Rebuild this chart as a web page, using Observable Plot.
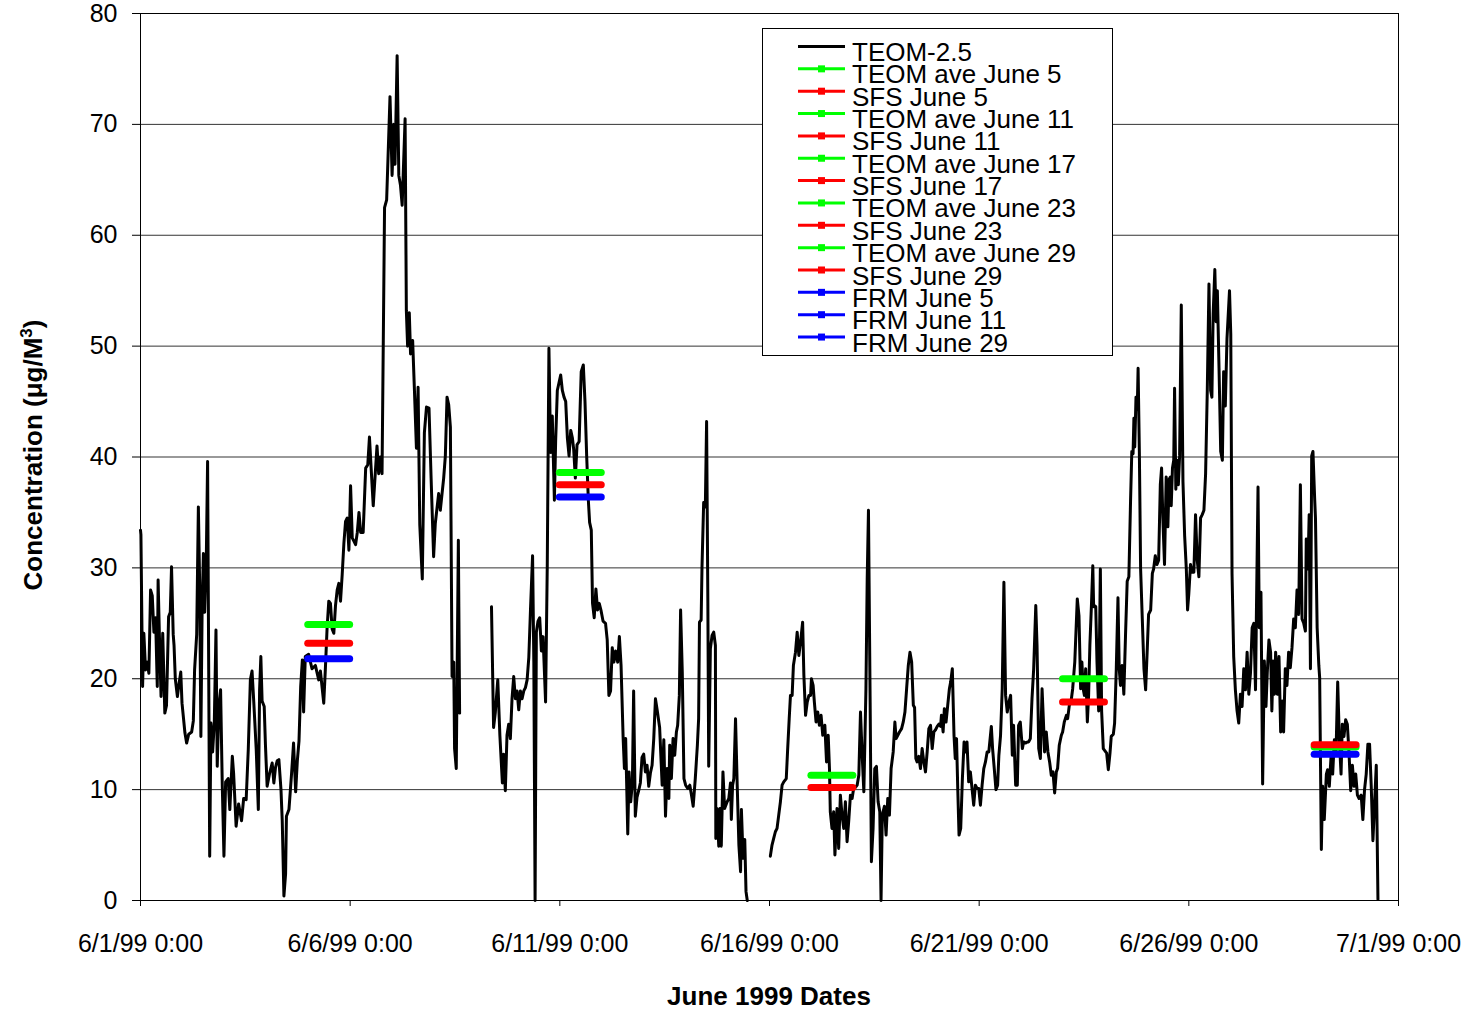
<!DOCTYPE html>
<html><head><meta charset="utf-8">
<script src="https://cdn.jsdelivr.net/npm/d3@7"></script>
<script src="https://cdn.jsdelivr.net/npm/@observablehq/plot@0.6"></script>
<style>
html,body{margin:0;padding:0;background:#fff;}
#chart{position:relative;width:1480px;height:1013px;}
</style></head><body><div id="chart"></div>
<script>
// ---- data ----
const tickDays = [0, 5, 10, 15, 20, 25, 30];
const tickLabels = ["6/1/99 0:00", "6/6/99 0:00", "6/11/99 0:00", "6/16/99 0:00", "6/21/99 0:00", "6/26/99 0:00", "7/1/99 0:00"];
const yTicks = [0, 10, 20, 30, 40, 50, 60, 70, 80];

// TEOM-2.5 readings: [days since 6/1/99 0:00, concentration]
const teomSeries = [
[0.00,33.4],[0.01,33.0],[0.05,19.3],[0.08,24.1],[0.12,20.8],[0.16,21.5],[0.20,20.5],[0.24,28.0],[0.28,27.5],[0.32,24.2],[0.36,25.5],[0.40,19.3],[0.42,28.9],[0.45,24.0],[0.49,18.4],[0.53,24.1],[0.58,16.9],[0.62,17.6],[0.67,25.6],[0.71,26.0],[0.74,30.1],[0.78,24.0],[0.80,23.0],[0.83,20.0],[0.88,18.4],[0.91,19.3],[0.96,20.6],[0.99,17.8],[1.06,15.1],[1.10,14.2],[1.15,15.0],[1.22,15.2],[1.26,16.2],[1.29,20.8],[1.34,24.0],[1.38,35.5],[1.41,28.7],[1.44,14.8],[1.47,26.4],[1.50,31.3],[1.53,26.0],[1.57,31.0],[1.60,39.6],[1.65,4.0],[1.68,16.0],[1.72,13.4],[1.76,16.0],[1.80,24.4],[1.83,12.1],[1.87,17.6],[1.91,19.0],[1.95,10.4],[1.99,4.0],[2.03,10.7],[2.09,11.0],[2.13,8.2],[2.19,13.0],[2.22,11.5],[2.28,6.7],[2.34,8.7],[2.41,7.2],[2.46,9.2],[2.52,9.1],[2.57,13.6],[2.62,19.9],[2.66,20.7],[2.70,18.0],[2.76,13.6],[2.81,8.2],[2.84,19.0],[2.87,22.0],[2.90,18.0],[2.95,17.5],[2.98,14.0],[3.02,10.3],[3.08,11.5],[3.14,12.4],[3.18,10.6],[3.22,12.0],[3.26,12.6],[3.30,12.7],[3.35,10.0],[3.38,7.2],[3.42,0.4],[3.46,2.4],[3.48,7.6],[3.54,8.2],[3.60,11.3],[3.65,14.2],[3.70,9.8],[3.74,12.6],[3.78,14.4],[3.82,19.3],[3.86,21.7],[3.89,17.0],[3.93,22.0],[4.01,22.2],[4.09,20.9],[4.17,21.2],[4.25,19.9],[4.29,20.7],[4.37,17.8],[4.41,21.0],[4.45,24.6],[4.49,27.0],[4.53,26.8],[4.57,24.5],[4.61,24.1],[4.65,26.6],[4.69,28.0],[4.73,28.6],[4.77,27.0],[4.81,29.4],[4.85,32.2],[4.89,34.2],[4.93,34.5],[4.97,31.6],[5.01,37.4],[5.05,32.7],[5.13,32.1],[5.17,33.2],[5.21,35.0],[5.25,33.2],[5.31,33.2],[5.37,39.0],[5.42,39.3],[5.46,41.8],[5.50,39.0],[5.55,35.6],[5.64,41.0],[5.68,38.5],[5.72,40.0],[5.76,38.5],[5.82,62.5],[5.87,63.2],[5.95,72.5],[6.00,65.4],[6.04,70.0],[6.07,66.4],[6.12,76.2],[6.16,65.4],[6.20,64.5],[6.24,62.7],[6.31,70.5],[6.34,53.2],[6.37,50.0],[6.41,53.0],[6.44,49.3],[6.49,50.5],[6.53,46.3],[6.58,40.8],[6.62,46.3],[6.66,33.9],[6.72,29.0],[6.77,42.2],[6.82,44.5],[6.88,44.4],[6.93,38.1],[6.99,31.0],[7.03,34.0],[7.11,36.7],[7.15,35.2],[7.23,38.1],[7.27,40.1],[7.31,45.4],[7.35,44.7],[7.39,42.7],[7.43,20.2],[7.47,21.5],[7.49,13.7],[7.53,11.9],[7.58,32.5],[7.61,16.9],
[8.00,null],
[8.37,26.5],[8.42,15.6],[8.46,16.9],[8.52,19.9],[8.57,14.9],[8.63,10.6],[8.66,13.2],[8.70,9.9],[8.74,14.9],[8.78,15.9],[8.82,14.6],[8.86,18.2],[8.90,20.2],[8.94,18.2],[8.98,18.9],[9.02,17.2],[9.06,18.9],[9.10,18.2],[9.14,18.9],[9.18,19.2],[9.22,19.9],[9.26,21.9],[9.30,26.2],[9.35,31.1],[9.38,21.5],[9.41,0.0],[9.44,24.2],[9.48,25.2],[9.52,25.5],[9.56,22.5],[9.60,23.8],[9.66,17.9],[9.70,30.1],[9.74,49.8],[9.78,40.4],[9.82,43.7],[9.87,36.1],[9.90,41.4],[9.94,46.0],[9.98,46.7],[10.02,47.4],[10.06,46.0],[10.10,45.4],[10.14,45.0],[10.18,41.7],[10.22,40.1],[10.26,42.4],[10.30,41.7],[10.33,40.7],[10.37,38.1],[10.41,41.1],[10.46,41.4],[10.51,47.7],[10.56,48.3],[10.60,45.0],[10.64,40.1],[10.68,36.1],[10.71,34.1],[10.75,33.4],[10.78,26.8],[10.82,25.5],[10.86,28.1],[10.90,26.2],[10.94,26.8],[10.98,26.2],[11.03,25.2],[11.09,25.0],[11.13,23.5],[11.17,18.5],[11.21,18.9],[11.25,22.8],[11.29,21.5],[11.33,22.5],[11.38,21.5],[11.42,23.8],[11.46,21.2],[11.51,14.6],[11.54,11.9],[11.57,14.6],[11.62,6.0],[11.65,11.6],[11.69,8.9],[11.73,10.6],[11.76,18.9],[11.80,7.6],[11.84,9.3],[11.88,9.9],[11.92,10.6],[11.96,12.9],[12.00,13.2],[12.04,11.6],[12.08,12.2],[12.12,10.3],[12.16,11.5],[12.20,12.2],[12.24,14.6],[12.28,18.2],[12.32,17.2],[12.38,15.6],[12.44,10.4],[12.48,14.5],[12.52,7.6],[12.56,11.9],[12.60,9.2],[12.62,14.0],[12.66,11.0],[12.70,14.6],[12.74,13.1],[12.78,15.2],[12.81,15.8],[12.85,18.5],[12.88,26.2],[12.92,20.6],[12.96,11.0],[13.00,10.4],[13.05,10.1],[13.10,10.4],[13.14,9.5],[13.18,8.5],[13.23,11.0],[13.28,14.0],[13.31,16.4],[13.33,25.1],[13.37,25.3],[13.39,30.0],[13.43,35.9],[13.47,35.5],[13.50,43.2],[13.53,26.9],[13.55,12.1],[13.59,22.7],[13.63,23.9],[13.67,24.2],[13.71,23.0],[13.72,5.6],[13.75,8.3],[13.79,4.9],[13.82,8.3],[13.85,4.9],[13.89,11.6],[13.93,8.3],[13.99,8.9],[14.03,9.2],[14.07,10.6],[14.09,7.3],[14.12,10.4],[14.15,11.0],[14.19,16.4],[14.23,10.4],[14.27,5.0],[14.31,2.6],[14.33,8.2],[14.37,3.8],[14.41,5.5],[14.44,0.8],[14.47,0.0],
[14.70,null],
[15.02,4.0],[15.06,5.0],[15.10,5.6],[15.14,6.2],[15.18,6.5],[15.22,7.7],[15.26,8.9],[15.30,10.4],[15.34,10.7],[15.40,11.0],[15.43,13.4],[15.47,16.4],[15.50,18.5],[15.54,18.5],[15.57,21.2],[15.62,22.4],[15.66,24.2],[15.70,22.1],[15.74,23.3],[15.79,25.1],[15.82,20.3],[15.86,16.7],[15.90,17.9],[15.94,18.5],[15.98,18.5],[16.00,20.0],[16.04,19.4],[16.07,17.9],[16.11,16.1],[16.15,17.0],[16.19,15.8],[16.23,16.7],[16.27,14.9],[16.32,15.8],[16.36,12.5],[16.40,14.9],[16.43,11.9],[16.45,8.0],[16.49,6.5],[16.53,8.0],[16.56,4.1],[16.61,8.3],[16.65,4.7],[16.69,9.5],[16.73,7.7],[16.77,6.5],[16.81,8.9],[16.85,5.3],[16.89,7.2],[16.93,9.5],[16.97,9.2],[17.01,10.2],[17.05,10.2],[17.09,10.4],[17.13,11.3],[17.17,17.0],[17.21,13.1],[17.25,9.8],[17.30,19.1],[17.33,29.0],[17.36,35.2],[17.40,17.9],[17.43,3.5],[17.47,6.5],[17.51,11.9],[17.55,12.1],[17.59,8.9],[17.63,8.0],[17.66,0.0],[17.69,7.7],[17.74,8.5],[17.78,5.9],[17.82,9.2],[17.86,7.7],[17.90,11.9],[17.95,13.4],[17.99,16.1],[18.02,14.6],[18.06,14.9],[18.10,15.2],[18.15,15.5],[18.19,16.1],[18.23,17.0],[18.27,19.1],[18.31,21.2],[18.35,22.4],[18.39,21.5],[18.43,17.6],[18.46,17.4],[18.49,12.8],[18.52,12.5],[18.56,13.0],[18.60,11.9],[18.64,13.7],[18.68,12.5],[18.72,11.6],[18.76,13.4],[18.80,15.5],[18.84,15.8],[18.88,13.7],[18.92,15.2],[18.96,15.4],[19.00,15.7],[19.04,15.9],[19.08,15.7],[19.10,16.7],[19.14,15.2],[19.17,17.3],[19.21,16.1],[19.25,17.6],[19.29,19.1],[19.32,19.7],[19.36,20.9],[19.40,14.9],[19.43,12.8],[19.46,14.6],[19.49,10.0],[19.52,5.9],[19.56,6.5],[19.60,11.0],[19.64,14.3],[19.68,13.4],[19.71,14.3],[19.75,10.7],[19.79,11.6],[19.83,10.1],[19.87,8.6],[19.91,10.4],[19.95,10.1],[19.99,10.1],[20.03,8.6],[20.07,10.4],[20.11,11.9],[20.15,12.5],[20.19,13.4],[20.23,13.4],[20.29,15.7],[20.32,13.7],[20.36,11.9],[20.40,10.0],[20.44,10.4],[20.47,13.1],[20.51,14.9],[20.55,19.1],[20.59,28.7],[20.63,18.5],[20.67,17.0],[20.71,17.9],[20.75,18.5],[20.79,13.1],[20.82,15.8],[20.87,10.4],[20.91,10.4],[20.94,15.8],[20.98,16.1],[21.03,13.7],[21.06,14.3],[21.11,14.2],[21.15,14.3],[21.18,14.3],[21.22,14.6],[21.26,18.2],[21.30,20.9],[21.35,26.6],[21.38,23.0],[21.42,13.7],[21.46,12.8],[21.50,19.1],[21.53,16.4],[21.56,13.4],[21.60,15.2],[21.64,13.4],[21.68,12.5],[21.72,11.3],[21.76,11.6],[21.80,9.7],[21.84,11.6],[21.87,11.9],[21.91,14.0],[21.96,14.9],[21.99,15.2],[22.03,16.1],[22.08,16.7],[22.11,16.4],[22.15,17.6],[22.19,17.9],[22.23,19.1],[22.28,21.5],[22.34,27.2],[22.38,25.7],[22.42,19.1],[22.45,21.5],[22.48,19.1],[22.51,18.5],[22.54,20.9],[22.58,16.1],[22.61,18.5],[22.64,23.0],[22.68,26.9],[22.71,30.2],[22.73,26.5],[22.75,26.6],[22.78,26.5],[22.81,21.5],[22.85,17.1],[22.89,29.9],[22.92,17.1],[22.96,13.7],[23.00,13.5],[23.04,13.3],[23.08,11.8],[23.12,13.3],[23.15,14.8],[23.20,15.0],[23.23,16.0],[23.27,20.9],[23.31,27.3],[23.34,20.9],[23.37,19.4],[23.41,21.2],[23.45,18.6],[23.49,23.9],[23.53,28.8],[23.57,29.2],[23.61,36.0],[23.64,40.5],[23.67,40.3],[23.69,43.5],[23.71,40.9],[23.74,45.4],[23.77,44.3],[23.79,48.0],[23.82,40.5],[23.85,29.9],[23.89,25.4],[23.93,20.9],[23.97,19.0],[24.01,22.8],[24.04,25.8],[24.09,26.2],[24.13,29.5],[24.16,29.9],[24.20,31.1],[24.24,30.3],[24.28,30.7],[24.32,37.5],[24.35,39.0],[24.38,34.5],[24.42,30.3],[24.46,38.2],[24.50,33.7],[24.53,38.0],[24.56,38.2],[24.58,35.6],[24.61,39.0],[24.64,39.7],[24.66,46.2],[24.69,37.1],[24.72,39.7],[24.75,37.5],[24.78,40.1],[24.82,53.7],[24.86,37.8],[24.90,32.9],[24.94,29.9],[24.97,26.2],[25.00,27.7],[25.04,30.3],[25.08,29.6],[25.12,29.6],[25.16,34.8],[25.20,30.7],[25.24,29.2],[25.28,34.5],[25.32,34.8],[25.36,35.2],[25.40,38.5],[25.44,46.0],[25.48,55.6],[25.52,46.0],[25.55,45.4],[25.58,52.9],[25.62,56.9],[25.65,52.2],[25.68,55.0],[25.72,48.0],[25.76,40.5],[25.80,39.7],[25.83,47.7],[25.87,44.6],[25.91,50.7],[25.97,55.0],[26.00,51.1],[26.03,29.5],[26.07,22.0],[26.11,19.0],[26.15,17.1],[26.19,16.0],[26.23,18.6],[26.27,17.5],[26.31,20.9],[26.35,19.0],[26.39,22.4],[26.43,18.6],[26.47,20.5],[26.51,24.6],[26.55,25.0],[26.59,19.0],[26.61,25.4],[26.65,37.3],[26.68,24.6],[26.72,27.8],[26.76,10.5],[26.80,21.6],[26.84,17.5],[26.87,20.5],[26.91,23.5],[26.95,22.4],[26.98,17.1],[27.01,21.6],[27.04,18.6],[27.07,22.4],[27.11,18.6],[27.15,22.0],[27.19,15.2],[27.23,18.0],[27.26,15.2],[27.30,20.9],[27.34,19.4],[27.38,22.4],[27.42,21.0],[27.46,22.8],[27.50,25.4],[27.54,24.6],[27.58,28.0],[27.62,25.8],[27.66,37.5],[27.70,25.4],[27.74,25.0],[27.78,24.3],[27.80,32.6],[27.84,29.9],[27.87,34.8],[27.90,20.9],[27.93,40.1],[27.96,40.5],[28.00,36.3],[28.02,34.5],[28.06,24.6],[28.10,21.2],[28.12,20.1],[28.16,4.6],[28.19,10.3],[28.23,7.3],[28.28,11.4],[28.31,11.8],[28.35,10.3],[28.39,12.9],[28.43,11.4],[28.47,14.5],[28.51,13.3],[28.55,19.7],[28.59,14.5],[28.63,11.4],[28.66,15.9],[28.70,14.8],[28.74,16.3],[28.78,15.9],[28.82,13.3],[28.86,9.9],[28.90,12.2],[28.94,10.3],[28.98,11.4],[29.02,9.5],[29.06,9.2],[29.11,9.5],[29.15,7.3],[29.19,10.0],[29.23,11.4],[29.27,14.1],[29.31,14.1],[29.35,10.3],[29.39,5.4],[29.43,8.8],[29.47,12.2],[29.51,0.1]
];

// 24-hour sample averages (day index of sample start)
const sampleDays = [4, 10, 16, 22, 28];
const teomAve = [24.9, 38.6, 11.3, 20.0, 13.85];
const sfsConc = [23.2, 37.5, 10.2, 17.9, 14.05];
const frmDays = [4, 10, 28];
const frmConc = [21.8, 36.4, 13.2];

const legendLabels = ["TEOM-2.5", "TEOM ave June 5", "SFS June 5", "TEOM ave June 11", "SFS June 11", "TEOM ave June 17", "SFS June 17", "TEOM ave June 23", "SFS June 23", "TEOM ave June 29", "SFS June 29", "FRM June 5", "FRM June 11", "FRM June 29"];
const legendColors = ["#000000", "#00ff00", "#ff0000", "#00ff00", "#ff0000", "#00ff00", "#ff0000", "#00ff00", "#ff0000", "#00ff00", "#ff0000", "#0000ff", "#0000ff", "#0000ff"];

const GREEN = "#00ff00", RED = "#ff0000", BLUE = "#0000ff";

// ---- build mark tables ----
const lineData = teomSeries.map(([d, v]) => ({day: d, conc: v}));
const barRows = [];
sampleDays.forEach((d, i) => {
  barRows.push({x1: d, x2: d + 1, y: teomAve[i], c: GREEN});
  barRows.push({x1: d, x2: d + 1, y: sfsConc[i], c: RED});
});
frmDays.forEach((d, i) => barRows.push({x1: d, x2: d + 1, y: frmConc[i], c: BLUE}));

const FONT = "'Liberation Sans', Arial, Helvetica, sans-serif";

const svg = Plot.plot({
  width: 1480,
  height: 1013,
  marginLeft: 140,
  marginRight: 82,
  marginTop: 13,
  marginBottom: 113,
  style: {fontFamily: FONT, fontSize: "25px", color: "#000", background: "#fff"},
  x: {domain: [0, 30], label: null},
  y: {domain: [0, 80], label: null},
  marks: [
    Plot.gridY(yTicks, {stroke: "#000", strokeOpacity: 0.8, strokeWidth: 1}),
    Plot.frame({stroke: "#000", strokeWidth: 1}),
    Plot.axisY(yTicks, {tickSize: 8, tickPadding: 15, fontSize: 25, label: null, stroke: "#000"}),
    Plot.axisX(tickDays, {tickSize: 6, tickPadding: 28, fontSize: 25, label: null, stroke: "#000",
      tickFormat: d => tickLabels[tickDays.indexOf(d)]}),
    Plot.line(lineData, {x: "day", y: "conc", stroke: "#000", strokeWidth: 3, strokeLinejoin: "round"}),
    Plot.ruleY(barRows, {y: "y", x1: "x1", x2: "x2", stroke: "c", strokeWidth: 7, strokeLinecap: "round"})
  ]
});
document.getElementById("chart").appendChild(svg);

const s = d3.select(svg);
// axis titles
s.append("text")
  .attr("x", 769).attr("y", 1005)
  .attr("text-anchor", "middle")
  .attr("font-family", FONT).attr("font-size", 26).attr("font-weight", "bold")
  .attr("fill", "#000")
  .text("June 1999 Dates");
const yl = s.append("text")
  .attr("transform", "translate(42,455) rotate(-90)")
  .attr("text-anchor", "middle")
  .attr("font-family", FONT).attr("font-size", 26).attr("font-weight", "bold")
  .attr("fill", "#000");
yl.append("tspan").text("Concentration (\u03BCg/M");
yl.append("tspan").attr("dy", -10).attr("font-size", 17).text("3");
yl.append("tspan").attr("dy", 10).text(")");

// legend
const lg = s.append("g").attr("text-anchor", "start");
lg.append("rect").attr("x", 762.5).attr("y", 28.5).attr("width", 350).attr("height", 327)
  .attr("fill", "#fff").attr("stroke", "#000").attr("stroke-width", 1);
legendLabels.forEach((lab, i) => {
  const base = 61 + i * 22.35;
  const ys = base - 14.5;
  lg.append("line").attr("x1", 798).attr("x2", 845).attr("y1", ys).attr("y2", ys)
    .attr("stroke", legendColors[i]).attr("stroke-width", 3);
  if (i > 0) {
    lg.append("rect").attr("x", 818).attr("y", ys - 3.5).attr("width", 7).attr("height", 7)
      .attr("fill", legendColors[i]);
  }
  lg.append("text").attr("x", 852).attr("y", base)
    .attr("text-anchor", "start")
    .attr("font-family", FONT).attr("font-size", 26).attr("fill", "#000")
    .text(lab);
});
</script>
</body></html>
